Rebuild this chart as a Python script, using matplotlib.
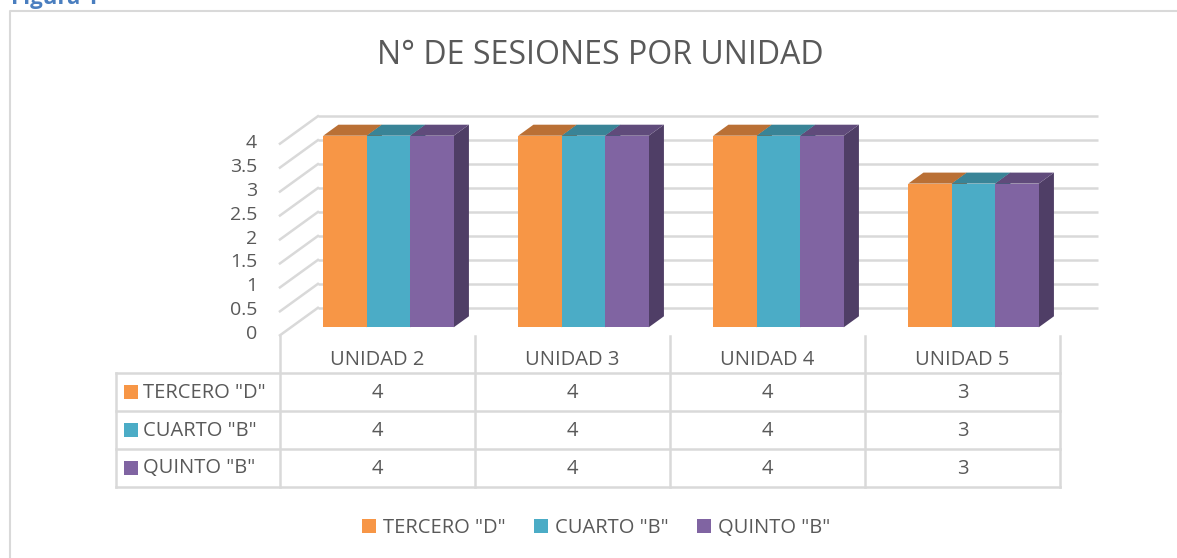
import matplotlib
matplotlib.use("Agg")
import matplotlib.pyplot as plt
from matplotlib.patches import Polygon, Rectangle, Patch

# ---- data ----
categories = ["UNIDAD 2", "UNIDAD 3", "UNIDAD 4", "UNIDAD 5"]
series_names = ['TERCERO "D"', 'CUARTO "B"', 'QUINTO "B"']
tercero_d = [4, 4, 4, 3]
cuarto_b = [4, 4, 4, 3]
quinto_b = [4, 4, 4, 3]
series_values = [tercero_d, cuarto_b, quinto_b]
yticks = [0, 0.5, 1, 1.5, 2, 2.5, 3, 3.5, 4]
title = "N° DE SESIONES POR UNIDAD"

# ---- styles ----
front_cols = ["#F79646", "#4BACC6", "#8064A2"]
top_cols = ["#BA7035", "#398497", "#604B7B"]
side_cols = ["#9C5C2B", "#2F6E7E", "#4F3E66"]
grid_col = "#D9D9D9"
txt_col = "#595959"
plt.rcParams['font.family'] = ['Open Sans', 'DejaVu Sans']
FS = 14.5

W, H = 1177, 558
fig = plt.figure(figsize=(W / 100, H / 100), dpi=100)

# overlay axes in pixel coordinates for frame / table / title
pix = fig.add_axes([0, 0, 1, 1])
pix.set_xlim(0, W)
pix.set_ylim(H, 0)
pix.axis("off")

# bar-plane axes
PX_CAT = 195.0
PX_VAL = 47.9
x_left_px = 291.0
y0_px = 327.3
ax = fig.add_axes([x_left_px / W, (H - y0_px) / H, 4 * PX_CAT / W, 4 * PX_VAL / H])
ax.set_xlim(-0.5, len(categories) - 0.5)
ax.set_ylim(0, 4)
ax.axis("off")

# depth offsets (per unit depth), in data units
DX = 13.8 / PX_CAT
DY = 10.0 / PX_VAL
D_BACK = 1.95
D_FRONT = -0.8
D_BAR = 1.1

# back wall gridlines, side-wall diagonals and value labels
xl, xr = -0.5, len(categories) - 0.5
for v in yticks:
    ax.plot([xl + D_BACK * DX, xr + D_BACK * DX], [v + D_BACK * DY] * 2,
            color=grid_col, lw=1.8, clip_on=False, zorder=1, solid_capstyle="butt")
    ax.plot([xl + D_FRONT * DX, xl + D_BACK * DX],
            [v + D_FRONT * DY, v + D_BACK * DY],
            color=grid_col, lw=1.8, clip_on=False, zorder=1)
    ax.text(xl + D_FRONT * DX - 23 / PX_CAT, v + D_FRONT * DY + 1.0 / PX_VAL,
            f"{v:g}", ha="right", va="center", fontsize=14, color=txt_col,
            clip_on=False)

# bars (front faces via ax.bar, top/side faces as polygons)
n = len(series_values)
bw = 43.5 / PX_CAT
for s, vals in enumerate(series_values):
    xs = [i + (s - (n - 1) / 2) * bw for i in range(len(categories))]
    ax.bar(xs, vals, width=bw, color=front_cols[s], zorder=3 + s * 0.1,
           clip_on=False, linewidth=0)
    for x, v in zip(xs, vals):
        x0, x1 = x - bw / 2, x + bw / 2
        top = Polygon([(x0, v), (x1, v), (x1 + D_BAR * DX, v + D_BAR * DY),
                       (x0 + D_BAR * DX, v + D_BAR * DY)],
                      closed=True, facecolor=top_cols[s], edgecolor="none",
                      zorder=3 + s * 0.1, clip_on=False)
        side = Polygon([(x1, 0), (x1, v), (x1 + D_BAR * DX, v + D_BAR * DY),
                        (x1 + D_BAR * DX, D_BAR * DY)],
                       closed=True, facecolor=side_cols[s], edgecolor="none",
                       zorder=3 + s * 0.1 - 0.05, clip_on=False)
        ax.add_patch(top)
        ax.add_patch(side)

# ---- chart frame ----
pix.plot([10, 10, W + 5], [H + 5, 11, 11], color=grid_col, lw=1.5)

# "Figura 1" caption (partly cut off at top, as in the source)
pix.text(11, 4, "Figura 1", color="#4A7EBF", fontsize=16, fontweight="bold",
         ha="left", va="baseline")

# title
pix.text(600, 56, title, ha="center", va="center", fontsize=23, color=txt_col)

# ---- data table ----
tbl_left = 116
col0 = 280
row_tops = [336, 373, 411, 449, 487]
ncol = len(categories)
col_right = col0 + ncol * PX_CAT
lc = grid_col
for y in row_tops[1:]:
    pix.plot([tbl_left, col_right], [y, y], color=lc, lw=1.8)
for k in range(ncol + 1):
    xk = col0 + k * PX_CAT
    pix.plot([xk, xk], [row_tops[0], row_tops[-1]], color=lc, lw=1.8)
pix.plot([tbl_left, tbl_left], [row_tops[1], row_tops[-1]], color=lc, lw=1.8)

for k, c in enumerate(categories):
    pix.text(col0 + (k + 0.5) * PX_CAT, (row_tops[0] + row_tops[1]) / 2 + 5.5, c,
             ha="center", va="center", fontsize=FS, color=txt_col)
for s, (name, vals) in enumerate(zip(series_names, series_values)):
    yc = (row_tops[s + 1] + row_tops[s + 2]) / 2
    pix.add_patch(Rectangle((124, yc - 7), 14, 14, facecolor=front_cols[s],
                            edgecolor="none"))
    pix.text(143, yc + 0.5, name, ha="left", va="center", fontsize=FS, color=txt_col)
    for k, v in enumerate(vals):
        pix.text(col0 + (k + 0.5) * PX_CAT, yc + 0.5, f"{v:g}", ha="center",
                 va="center", fontsize=FS, color=txt_col)

# ---- legend ----
handles = [Patch(facecolor=c, edgecolor="none") for c in front_cols]
fig.legend(handles, series_names, loc="center", bbox_to_anchor=(596 / W, 1 - 528 / H),
           ncol=3, frameon=False, fontsize=FS, handlelength=0.7, handleheight=0.7,
           handletextpad=0.35, columnspacing=1.4, labelcolor=txt_col,
           borderpad=0, borderaxespad=0)

fig.savefig("out.png", dpi=100)
